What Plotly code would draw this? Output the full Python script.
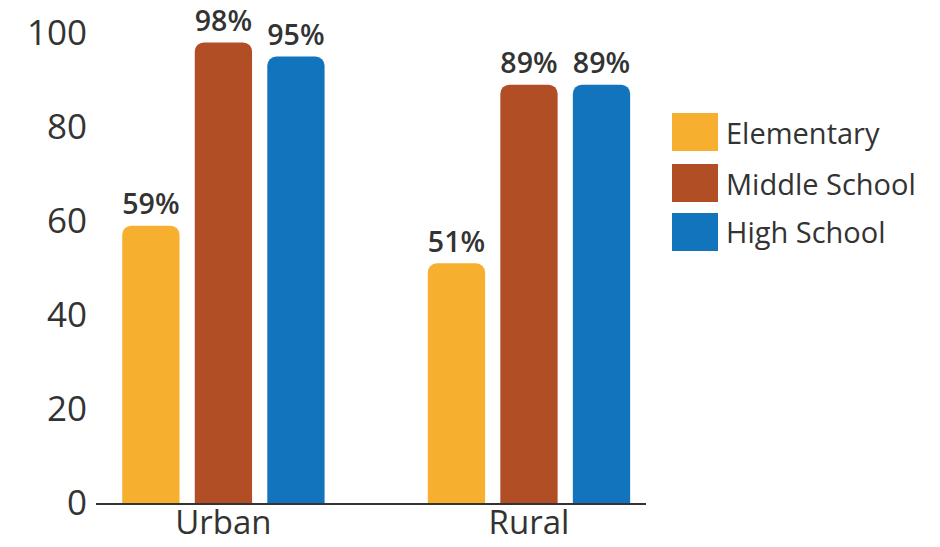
import plotly.graph_objects as go

categories = ["Urban", "Rural"]
series_names = ["Elementary", "Middle School", "High School"]
elementary = [59, 51]
middle_school = [98, 89]
high_school = [95, 89]
tick_vals = [0, 20, 40, 60, 80, 100]

colors = ["#F6AF2E", "#B24E25", "#1174BD"]
font_family = "Open Sans, Noto Sans, sans-serif"
values = [elementary, middle_school, high_school]

fig = go.Figure()
for name, vals, col in zip(series_names, values, colors):
    fig.add_trace(go.Bar(
        x=categories, y=vals, name=name,
        marker=dict(color=col, line=dict(width=0)),
        text=[f"{v}%" for v in vals],
        textposition="outside",
        textfont=dict(family=font_family, size=31, color="#333333", weight=600),
        cliponaxis=False,
        showlegend=False,
    ))

fig.update_layout(
    width=940, height=547,
    margin=dict(l=96, r=294, t=10, b=44, autoexpand=False),
    paper_bgcolor="white", plot_bgcolor="white",
    barmode="group", bargap=0.288, bargroupgap=0.21,
    barcornerradius=9,
    font=dict(family=font_family, color="#333333"),
    xaxis=dict(
        range=[-0.417, 1.383],
        automargin=False,
        showline=True, linecolor="#333333", linewidth=1.5,
        showgrid=False, zeroline=False,
        tickfont=dict(size=33, color="#333333"),
        ticks="",
        ticklabelstandoff=-10,
    ),
    yaxis=dict(
        range=[0, 104.9],
        automargin=False,
        tickvals=tick_vals,
        showline=False, showgrid=False, zeroline=False,
        tickfont=dict(size=35, color="#333333"),
        ticklabelstandoff=8,
    ),
)

# Custom legend (large swatches) in paper coordinates
sw_x0, sw_x1 = 672, 718
sw_tops = [113, 164, 213]
sw_h = 38
W, H = 940, 547
for name, col, top in zip(series_names, colors, sw_tops):
    fig.add_shape(type="rect", xref="paper", yref="paper",
                  x0=(sw_x0 - 96) / 550, x1=(sw_x1 - 96) / 550,
                  y0=(H - 44 - (top + sw_h)) / 493, y1=(H - 44 - top) / 493,
                  fillcolor=col, line=dict(width=0))
    fig.add_annotation(xref="paper", yref="paper",
                       x=(724 - 96) / 550, y=(H - 44 - (top + sw_h / 2)) / 493,
                       text=name, showarrow=False, xanchor="left", yanchor="middle",
                       font=dict(family=font_family, size=29, color="#333333"))

fig.write_html("out.html", config={"displayModeBar": False},
               post_script="document.body.style.margin='0';document.body.style.padding='0';")
